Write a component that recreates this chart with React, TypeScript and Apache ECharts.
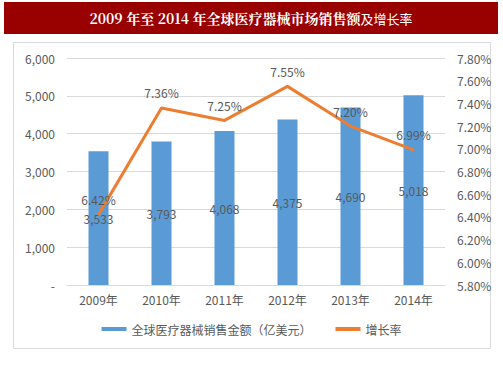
import React, { useEffect, useRef } from "react";
import * as echarts from "echarts";

const categories = ["2009年", "2010年", "2011年", "2012年", "2013年", "2014年"];
const salesValues = [3533, 3793, 4068, 4375, 4690, 5018];
const growthValues = [6.42, 7.36, 7.25, 7.55, 7.2, 6.99];
const salesName = "全球医疗器械销售金额（亿美元）";
const growthName = "增长率";
const titleMain = "2009 年至 2014 年全球医疗器械市场销售额";
const titleTail = "及增长率";

const FONT = "'Microsoft YaHei', 'Noto Sans CJK SC', sans-serif";
const GRAY = "#595959";

export default function App() {
  const ref = useRef<HTMLDivElement>(null);
  useEffect(() => {
    if (!ref.current) return;
    const chart = echarts.init(ref.current, undefined, { renderer: "svg" });
    chart.setOption({
      animation: false,
      backgroundColor: "#ffffff",
      textStyle: { fontFamily: FONT },
      graphic: [
        {
          type: "rect",
          shape: { x: 4, y: 2, width: 494, height: 32 },
          style: { fill: "#990000" },
          silent: true,
        },
        {
          type: "rect",
          shape: { x: 13.5, y: 42.5, width: 477, height: 306 },
          style: { fill: "none", stroke: "#D9D9D9", lineWidth: 1 },
          silent: true,
        },
        {
          type: "text",
          x: 251,
          y: 18,
          style: {
            text: "{a|" + titleMain + "}{b|" + titleTail + "}",
            align: "center",
            verticalAlign: "middle",
            rich: {
              a: {
                fill: "#ffffff",
                fontSize: 14,
                fontWeight: "bold",
                fontFamily: "'Noto Serif CJK SC', 'Noto Sans CJK SC', serif",
              },
              b: {
                fill: "#ffffff",
                fontSize: 13,
                fontFamily: "'Noto Sans CJK SC', sans-serif",
              },
            },
          },
          silent: true,
        },
      ],
      legend: {
        bottom: 38,
        left: "center",
        itemGap: 24,
        itemWidth: 25,
        itemHeight: 4,
        textStyle: { color: GRAY, fontSize: 12, fontFamily: FONT },
        data: [
          { name: salesName, icon: "rect" },
          { name: growthName, icon: "rect" },
        ],
      },
      grid: { left: 67, right: 58, top: 58, bottom: 93 },
      xAxis: {
        type: "category",
        data: categories,
        axisLine: { lineStyle: { color: "#D9D9D9" } },
        axisTick: { show: false },
        axisLabel: { color: GRAY, fontSize: 12, margin: 8 },
      },
      yAxis: [
        {
          type: "value",
          min: 0,
          max: 6000,
          interval: 1000,
          axisLine: { show: false },
          axisTick: { show: false },
          splitLine: { lineStyle: { color: "#D9D9D9" } },
          axisLabel: {
            color: GRAY,
            fontSize: 12,
            margin: 12,
            formatter: (v: number) => (v === 0 ? "-" : v.toLocaleString("en-US")),
          },
        },
        {
          type: "value",
          min: 5.8,
          max: 7.8,
          interval: 0.2,
          axisLine: { show: false },
          axisTick: { show: false },
          splitLine: { show: false },
          axisLabel: {
            color: GRAY,
            fontSize: 12,
            margin: 12,
            formatter: (v: number) => v.toFixed(2) + "%",
          },
        },
      ],
      series: [
        {
          name: salesName,
          type: "bar",
          data: salesValues,
          barWidth: 20,
          itemStyle: { color: "#5B9BD5" },
          label: {
            show: true,
            position: "inside",
            color: GRAY,
            fontSize: 12,
            formatter: (p: any) => Number(p.value).toLocaleString("en-US"),
          },
        },
        {
          name: growthName,
          type: "line",
          yAxisIndex: 1,
          data: growthValues,
          symbol: "circle",
          symbolSize: 2,
          showSymbol: true,
          lineStyle: { color: "#ED7D31", width: 3 },
          itemStyle: { color: "#ED7D31" },
          labelLayout: { hideOverlap: false },
          label: {
            show: true,
            position: "top",
            distance: 8,
            color: GRAY,
            fontSize: 12,
            formatter: (p: any) => Number(p.value).toFixed(2) + "%",
          },
        },
      ],
    });
    return () => chart.dispose();
  }, []);
  return (
    <div
      ref={ref}
      style={{ position: "fixed", left: 0, top: 0, width: 503, height: 378 }}
    />
  );
}
